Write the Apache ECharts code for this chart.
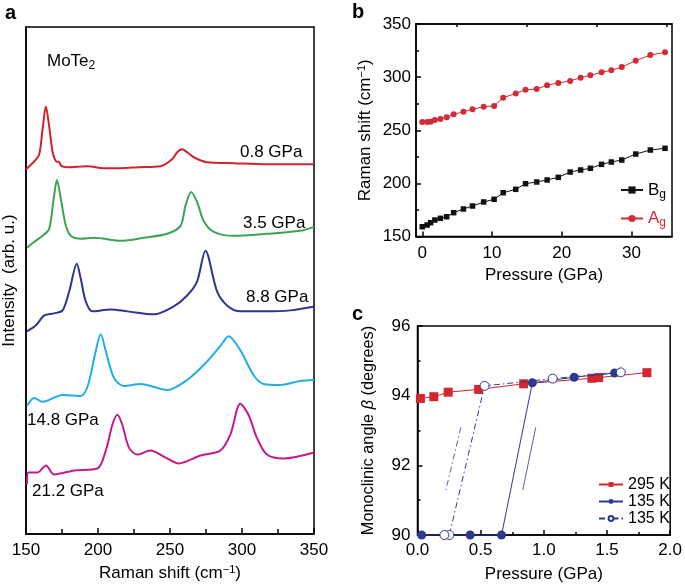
<!DOCTYPE html>
<html><head><meta charset="utf-8">
<script src="https://cdn.jsdelivr.net/npm/echarts@6/dist/echarts.min.js"></script>
<style>html,body{margin:0;padding:0;background:#fff}#c{width:685px;height:587px}</style>
</head><body><div id="c"></div><script>
// ---------- Panel a: Raman spectra (arb. u., offset traces) ----------
const shift08 = [150,155.8,159.2,161.5,163.8,166.1,168.5,170.8,173.1,174.7,178.9,192.7,204.2,215.7,228.4,243.4,251.5,255,258.4,261.9,266.5,275.7,294.2,317.3,350];
const int08   = [367,375,382,407,430,410,384,375,374,370,369,370,368,368,369,370,377,384,387,384,379,374,373,372,372];
const shift35 = [150.7,155.8,161.5,166.1,169.2,171.5,174.2,177.7,181.1,188.1,197.3,215.7,231.9,248.1,257.3,260.7,264.7,268.8,273.4,280.4,294.2,317.3,340.3,350];
const int35   = [288,294,300,307,337,356,337,310,300,297,298,295,298,302,310,330,344,334,315,304,300,302,305,309];
const shift88 = [150.7,156.9,162.7,169.6,175.4,180,185.3,188,191.5,196.1,208.8,220.4,238.8,252.6,261.9,268.8,274.6,282.7,289.6,298.8,317.3,333.4,350];
const int88   = [204,210,220,222,225,244,272,257,234,224,226,224,221,229,240,254,285,244,230,224,224,225,229];
const shift148 = [150.7,155.8,161.5,175.4,188.1,193.1,198.4,201.9,205.4,211.1,218,229.6,248.1,261.9,273.4,284.9,290.7,298.8,308,314.9,326.5,340.3,350];
const int148   = [129,137,133,140,139,150,184,201,184,157,149,151,145,155,170,189,199,185,160,151,150,154,155];
const shift212 = [150.7,151.6,158.1,163.8,169.6,183.4,199.6,205.4,210,213.5,216.9,221.5,227.3,236.5,245.7,256.1,271.1,284.9,291.9,298.8,304.5,310.3,317.3,328.8,350];
const int212   = [50,62,62,69,60,64,66,84,110,120,110,87,80,84,78,71,79,84,100,131,120,97,80,76,82];
const spectraLabels = ['0.8 GPa','3.5 GPa','8.8 GPa','14.8 GPa','21.2 GPa'];

// ---------- Panel b: Raman shift vs pressure ----------
const pressureB = [0,0.7,1.2,1.8,2.6,3.5,4.5,5.9,7.2,8.8,10.3,11.6,13.4,14.8,16.4,17.9,19.5,21.2,22.7,24.1,25.7,27.1,28.6,30.6,32.7,34.8];
const bgShift = [159.2,160.8,163.0,165.5,167.1,168.6,172.4,175.9,178.7,182.5,185.0,191.2,194.4,199.7,201.3,203.2,205.7,210.7,212.6,214.2,217.9,220.1,222.0,227.6,231.4,233.0];
const agShift = [257.7,257.7,258.0,259.6,260.6,262.2,265.0,267.4,269.7,272.2,272.8,280.6,284.7,288.1,288.8,292.3,294.5,296.4,299.5,301.7,304.6,306.4,309.5,315.5,320.8,323.3];
const ticksBx = [0,10,20,30];
const minorBx = [5,15,25,35];

// ---------- Panel c: monoclinic angle vs pressure ----------
const p295 = [0.023,0.129,0.243,0.484,0.84,1.38,1.434,1.816];
const beta295 = [93.92,93.97,94.10,94.18,94.34,94.50,94.52,94.66];
const p135up = [0.033,0.417,0.665,0.909,1.24,1.56];
const beta135up = [90.0,90.0,90.0,94.37,94.53,94.65];
const p135down = [1.609,1.07,0.531,0.252,0.213];
const beta135down = [94.67,94.49,94.28,90.0,90.0];
const arrowDown = [[0.343,93.09],[0.221,91.24]];
const arrowUp = [[0.833,91.29],[0.936,93.09]];

const FF = 'Liberation Sans, Arial, Helvetica, sans-serif';
const zip = (a,b) => a.map((v,i)=>[v,b[i]]);
const colA = ['#d0232f','#3ca454','#2f3590','#22aee6','#c41a8c'];
const RED = '#d42a35', BLUE = '#2d3a8c';
const DASHDOT = [6,3,1.5,3];

const tickStyle = {color:'#000', width:1.5};
const axisLineOn = {show:true, onZero:false, lineStyle:{color:'#000', width:1.5}};
const labelStyle = {color:'#000', fontSize:17, fontFamily:FF};
const mkName = (fs) => ({color:'#000', fontSize:fs, fontFamily:FF,
  rich:{sup:{fontSize:11, fontFamily:FF, color:'#000', padding:[0,0,8,0]},
        it:{fontSize:fs, fontFamily:FF, fontStyle:'italic', color:'#000'}}});
const gridBox = {show:true, borderColor:'#000', borderWidth:1.5, backgroundColor:'transparent'};

const spectra = [[shift08,int08],[shift35,int35],[shift88,int88],[shift148,int148],[shift212,int212]];

const option = {
  animation:false,
  backgroundColor:'#fff',
  textStyle:{fontFamily:FF},
  grid:[
    Object.assign({left:25, top:27, width:289, height:510}, gridBox),
    Object.assign({left:416, top:24, width:256, height:212.5}, gridBox),
    Object.assign({left:417.5, top:326, width:258, height:209}, gridBox)
  ],
  xAxis:[
    {gridIndex:0, type:'value', min:150, max:350, interval:50,
     axisLine:axisLineOn, splitLine:{show:false},
     axisTick:{show:true, inside:true, length:6, lineStyle:tickStyle},
     minorTick:{show:true, splitNumber:2, length:5, lineStyle:tickStyle},
     axisLabel:Object.assign({margin:8}, labelStyle),
     name:'Raman shift (cm{sup|−1})', nameLocation:'middle', nameGap:29, nameTextStyle:mkName(17)},
    {gridIndex:1, type:'value', min:-0.9, max:35.8,
     axisLine:axisLineOn, splitLine:{show:false},
     axisTick:{show:true, inside:true, length:5, lineStyle:tickStyle, customValues:ticksBx},
     axisLabel:Object.assign({margin:8, customValues:ticksBx}, labelStyle),
     name:'Pressure (GPa)', nameLocation:'middle', nameGap:30, nameTextStyle:mkName(17)},
    {gridIndex:1, type:'value', min:-0.9, max:35.8,
     axisLine:axisLineOn, splitLine:{show:false},
     axisTick:{show:true, inside:true, length:3, lineStyle:tickStyle, customValues:minorBx},
     axisLabel:{show:false}},
    {gridIndex:2, type:'value', min:0, max:2, interval:0.5,
     axisLine:axisLineOn, splitLine:{show:false},
     axisTick:{show:true, inside:true, length:5, lineStyle:tickStyle},
     minorTick:{show:true, splitNumber:2, length:3, lineStyle:tickStyle},
     axisLabel:Object.assign({margin:7, formatter:v=>v.toFixed(1)}, labelStyle),
     name:'Pressure (GPa)', nameLocation:'middle', nameGap:31, nameTextStyle:mkName(17)}
  ],
  yAxis:[
    {gridIndex:0, type:'value', min:0, max:510,
     axisLine:axisLineOn, splitLine:{show:false}, axisTick:{show:false}, axisLabel:{show:false},
     name:'Intensity  (arb. u.)', nameLocation:'middle', nameGap:8, nameTextStyle:mkName(17)},
    {gridIndex:1, type:'value', min:150, max:350, interval:50,
     axisLine:axisLineOn, splitLine:{show:false},
     axisTick:{show:true, inside:true, length:5, lineStyle:tickStyle},
     minorTick:{show:true, splitNumber:2, length:3, lineStyle:tickStyle},
     axisLabel:Object.assign({margin:5}, labelStyle),
     name:'Raman shift (cm{sup|−1})', nameLocation:'middle', nameGap:41, nameTextStyle:mkName(17)},
    {gridIndex:2, type:'value', min:90, max:96, interval:2,
     axisLine:axisLineOn, splitLine:{show:false},
     axisTick:{show:true, inside:true, length:5, lineStyle:tickStyle},
     minorTick:{show:true, splitNumber:2, length:3, lineStyle:tickStyle},
     axisLabel:Object.assign({margin:7}, labelStyle),
     name:'Monoclinic angle {it|β} (degrees)', nameLocation:'middle', nameGap:41, nameTextStyle:mkName(16.3)}
  ],
  legend:[
    {data:[{name:'Bg', textStyle:{color:'#000'}},{name:'Ag', textStyle:{color:RED}}],
     left:620, top:180, padding:0, orient:'vertical', itemWidth:22, itemHeight:9, itemGap:8, selectedMode:false,
     formatter:n=>n[0]+'{s|g}',
     textStyle:{fontSize:17, fontFamily:FF, lineHeight:20,
       rich:{s:{fontSize:12, fontFamily:FF, padding:[9,0,0,0]}}}},
    {data:['295 K','135 K','135 K dec'],
     left:598, top:476, padding:0, orient:'vertical', itemWidth:24, itemHeight:6, itemGap:0, selectedMode:false,
     formatter:n=>n.startsWith('135')?'135 K':n,
     textStyle:{fontSize:16, fontFamily:FF, color:'#000', lineHeight:17}}
  ],
  series:[
    ...spectra.map((s,i)=>({type:'line', name:spectraLabels[i], xAxisIndex:0, yAxisIndex:0,
      data:zip(s[0],s[1]), showSymbol:false, smooth:0.3, lineStyle:{color:colA[i], width:2}, itemStyle:{color:colA[i]}})),
    {type:'line', name:'Bg', xAxisIndex:1, yAxisIndex:1, data:zip(pressureB,bgShift),
     symbol:'rect', symbolSize:5.5, itemStyle:{color:'#111'}, lineStyle:{color:'#111', width:1}},
    {type:'line', name:'Ag', xAxisIndex:1, yAxisIndex:1, data:zip(pressureB,agShift),
     symbol:'circle', symbolSize:6, itemStyle:{color:RED}, lineStyle:{color:RED, width:1}},
    {type:'line', name:'295 K', xAxisIndex:3, yAxisIndex:2, data:zip(p295,beta295),
     symbol:'rect', symbolSize:9, itemStyle:{color:'#d22630'}, lineStyle:{color:'#d22630', width:1}, z:3},
    {type:'line', name:'135 K', xAxisIndex:3, yAxisIndex:2, data:zip(p135up,beta135up),
     symbol:'circle', symbolSize:9, itemStyle:{color:BLUE}, lineStyle:{color:BLUE, width:1}, z:4, clip:false,
     markLine:{silent:true, symbol:['none','arrow'], symbolSize:[0,7], label:{show:false},
       lineStyle:{color:BLUE, width:0.8, type:'solid'},
       data:[[{coord:arrowUp[0]},{coord:arrowUp[1]}]]}},
    {type:'line', name:'135 K dec', xAxisIndex:3, yAxisIndex:2, data:zip(p135down,beta135down),
     symbol:'circle', symbolSize:9, itemStyle:{color:'#fff', borderColor:BLUE, borderWidth:1}, z:5, clip:false,
     lineStyle:{color:BLUE, width:1, type:DASHDOT},
     markLine:{silent:true, symbol:['none','arrow'], symbolSize:[0,7], label:{show:false},
       lineStyle:{color:BLUE, width:0.8, type:DASHDOT},
       data:[[{coord:arrowDown[0]},{coord:arrowDown[1]}]]}}
  ],
  graphic:[
    {type:'text', left:5, top:3, style:{text:'a', font:'bold 20px '+FF, fill:'#000'}},
    {type:'text', left:352, top:2, style:{text:'b', font:'bold 20px '+FF, fill:'#000'}},
    {type:'text', left:352, top:304, style:{text:'c', font:'bold 20px '+FF, fill:'#000'}},
    {type:'text', x:47, y:61, style:{text:'MoTe{s|2}', fill:'#000', font:'17px '+FF, verticalAlign:'middle',
      rich:{s:{fontSize:12, fontFamily:FF, fill:'#000', padding:[9,0,0,0]}}}},
    {type:'text', x:240, y:152, style:{text:spectraLabels[0], font:'17px '+FF, fill:'#000', verticalAlign:'middle'}},
    {type:'text', x:243, y:223, style:{text:spectraLabels[1], font:'17px '+FF, fill:'#000', verticalAlign:'middle'}},
    {type:'text', x:246, y:297, style:{text:spectraLabels[2], font:'17px '+FF, fill:'#000', verticalAlign:'middle'}},
    {type:'text', x:27, y:420, style:{text:spectraLabels[3], font:'17px '+FF, fill:'#000', verticalAlign:'middle'}},
    {type:'text', x:32, y:491, style:{text:spectraLabels[4], font:'17px '+FF, fill:'#000', verticalAlign:'middle'}}
  ]
};
const chart = echarts.init(document.getElementById('c'));
chart.setOption(option);
</script></body></html>
